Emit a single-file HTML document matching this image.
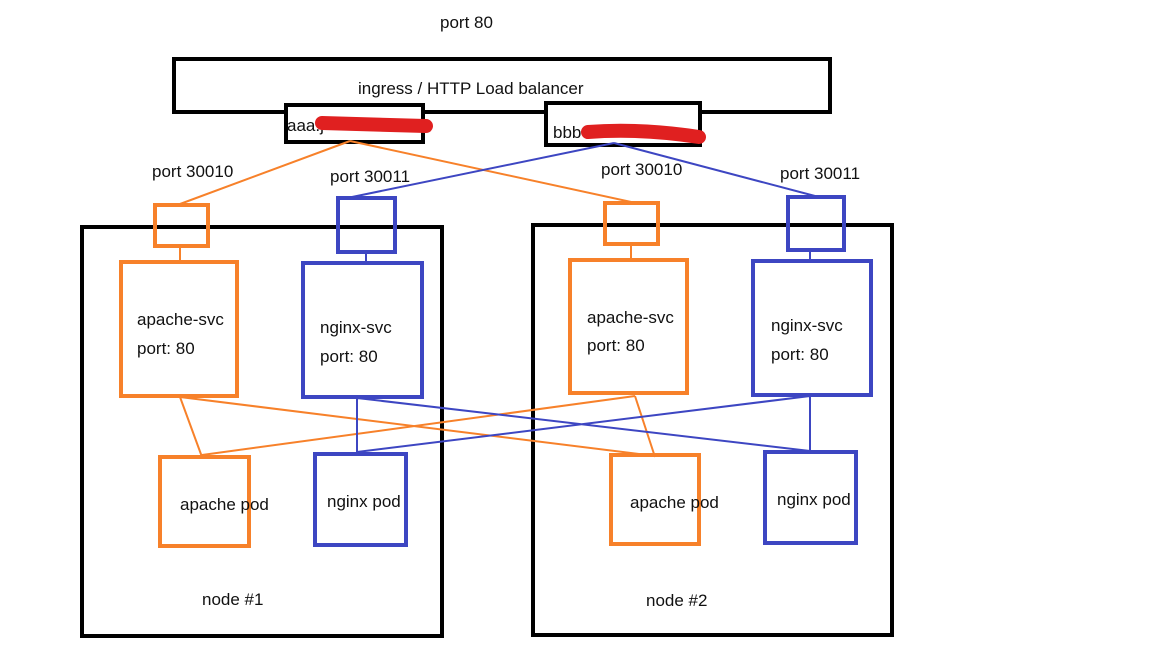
<!DOCTYPE html>
<html><head><style>body{margin:0;background:#fff}svg{display:block}text{font-family:"Liberation Sans","Noto Sans CJK KR",sans-serif;font-size:17px;fill:#111}</style></head>
<body><svg width="1152" height="648" viewBox="0 0 1152 648">
<g fill="none" stroke="#000" stroke-width="4">
<rect x="174" y="59" width="656" height="53"/>
<rect x="286" y="105" width="137" height="37" fill="#fff"/>
<rect x="546" y="103" width="154" height="42" fill="#fff"/>
<rect x="82" y="227" width="360" height="409"/>
<rect x="533" y="225" width="359" height="410"/>
</g>
<text x="358" y="94">ingress / HTTP Load balancer</text>
<text x="440" y="28">port 80</text>
<text x="287" y="131">aaa.j</text>
<text x="553" y="138">bbb</text>
<path d="M322 123 L426 126" stroke="#e02020" stroke-width="14" stroke-linecap="round"/>
<path d="M588 132 Q640 128 699 137" stroke="#e02020" stroke-width="14" stroke-linecap="round"/>
<g stroke-width="2" fill="none">
<path d="M350 141 L180 204 M350 141 L636 203" stroke="#f7812a"/>
<path d="M614 143 L352 197 M614 143 L815 196" stroke="#3d46c2"/>
<path d="M180 247 V262 M631 245 V262 M180 397 L202 457 M180 397 L655 456 M635 396 L202 455 M635 396 L655 457" stroke="#f7812a"/>
<path d="M366 252 V263 M810 250 V262 M357 398 L357 455 M357 398 L810 451 M810 396 L357 452 M810 396 L810 451" stroke="#3d46c2"/>
</g>
<g fill="none" stroke-width="4" stroke="#f7812a">
<rect x="155" y="205" width="53" height="41"/>
<rect x="605" y="203" width="53" height="41"/>
<rect x="121" y="262" width="116" height="134"/>
<rect x="570" y="260" width="117" height="133"/>
<rect x="160" y="457" width="89" height="89"/>
<rect x="611" y="455" width="88" height="89"/>
</g>
<g fill="none" stroke-width="4" stroke="#3d46c2">
<rect x="338" y="198" width="57" height="54"/>
<rect x="788" y="197" width="56" height="53"/>
<rect x="303" y="263" width="119" height="134"/>
<rect x="753" y="261" width="118" height="134"/>
<rect x="315" y="454" width="91" height="91"/>
<rect x="765" y="452" width="91" height="91"/>
</g>
<text x="152" y="177">port 30010</text>
<text x="330" y="182">port 30011</text>
<text x="601" y="175">port 30010</text>
<text x="780" y="179">port 30011</text>
<text x="137" y="325">apache-svc</text>
<text x="137" y="354">port: 80</text>
<text x="320" y="333">nginx-svc</text>
<text x="320" y="362">port: 80</text>
<text x="587" y="323">apache-svc</text>
<text x="587" y="351">port: 80</text>
<text x="771" y="331">nginx-svc</text>
<text x="771" y="360">port: 80</text>
<text x="180" y="510">apache pod</text>
<text x="327" y="507">nginx pod</text>
<text x="630" y="508">apache pod</text>
<text x="777" y="505">nginx pod</text>
<text x="202" y="605">node #1</text>
<text x="646" y="606">node #2</text>
</svg></body></html>
